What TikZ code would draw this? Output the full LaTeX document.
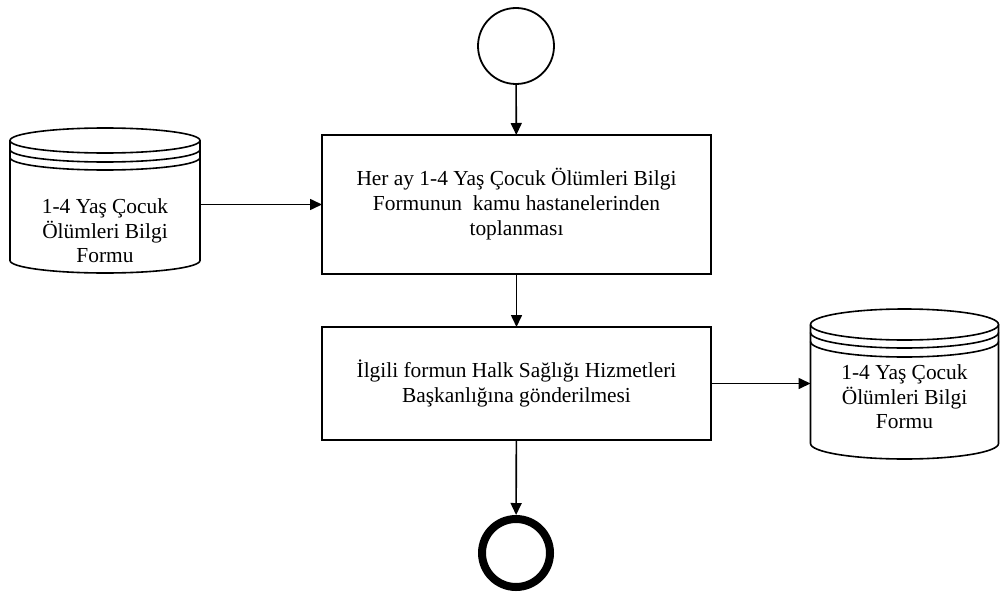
\documentclass[tikz,border=0pt]{standalone}
\usepackage{fontspec}
\setmainfont{Liberation Serif}
\usetikzlibrary{arrows.meta,calc}
\begin{document}
\begin{tikzpicture}[x=1pt,y=-1pt,
  line/.style={line width=1.6pt},
  flow/.style={line, -{Triangle[length=12pt,width=11pt]}},
  stepbox/.style={draw, line width=2pt, rectangle, inner sep=0pt, outer sep=0pt,
    align=center, font=\fontsize{21.4}{25}\selectfont},
  diskarea/.style={rectangle, inner sep=0pt, outer sep=0pt},
  disktext/.style={align=center, inner sep=0pt, font=\fontsize{21.4}{24.5}\selectfont},
  startev/.style={circle, draw, line width=1.8pt, minimum size=76pt, inner sep=0pt, outer sep=0pt},
  endev/.style={circle, draw, line width=8pt, minimum size=68pt, inner sep=0pt, outer sep=4pt}]
\useasboundingbox (0,0) rectangle (1000,599);

% start and end events
\node[startev] (start) at (516,46) {};
\node[endev] (end) at (516,553) {};

% process steps
\node[stepbox, minimum width=389pt, minimum height=139pt] (b1) at (516.5,204.5)
  {Her ay 1-4 Yaş Çocuk Ölümleri Bilgi\\Formunun\ \ kamu hastanelerinden\\toplanması};
\node[stepbox, minimum width=389pt, minimum height=113pt] (b2) at (516.5,383.5)
  {İlgili formun Halk Sağlığı Hizmetleri\\Başkanlığına gönderilmesi};

% data stores (cylinders with two extra rims)
\node[diskarea, minimum width=190pt, minimum height=145pt] (lc) at (105,200.5) {};
\node[diskarea, minimum width=188pt, minimum height=150pt] (rc) at (904.5,384) {};

\newcommand\drawdisk[5]{% node, x radius, y radius, rim 1, rim 2
  \draw[line] ($(#1.north)+(0,-#3)$) ellipse[x radius=#2, y radius=#3];
  \draw[line] ($(#1.north west)+(0,-#3-#4)$) arc[start angle=180, end angle=360, x radius=#2, y radius=#3];
  \draw[line] ($(#1.north west)+(0,-#3-#5)$) arc[start angle=180, end angle=360, x radius=#2, y radius=#3];
  \draw[line] ($(#1.north west)+(0,-#3)$) -- ($(#1.south west)+(0,#3)$)
    arc[start angle=180, end angle=360, x radius=#2, y radius=#3]
    -- ($(#1.north east)+(0,-#3)$);
}
\drawdisk{lc}{95pt}{12.5pt}{9pt}{17pt}
\drawdisk{rc}{94pt}{15.5pt}{8pt}{17pt}

\node[disktext] (lct) at (105,231) {1-4 Yaş Çocuk\\Ölümleri Bilgi\\Formu};
\node[disktext] (rct) at (904.5,397) {1-4 Yaş Çocuk\\Ölümleri Bilgi\\Formu};

% connectors
\draw[flow] (start) -- (b1);
\draw[flow] (b1) -- (b2);
\draw[flow] (b2) -- (end);
\draw[flow] (b1.west -| lc.east) -- (b1.west);
\draw[flow] (b2.east) -- (b2.east -| rc.west);
\end{tikzpicture}
\end{document}
